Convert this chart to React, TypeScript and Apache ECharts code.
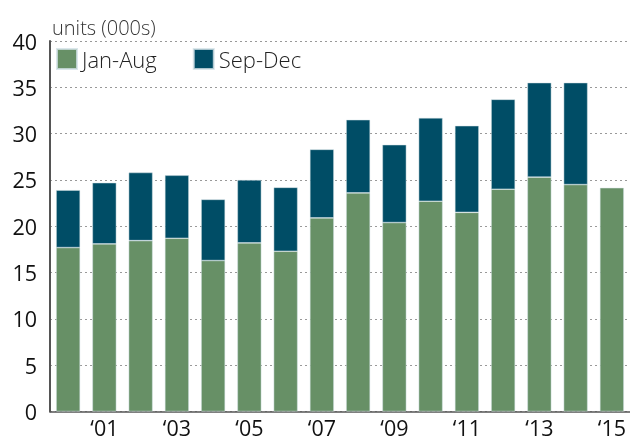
import React, { useEffect, useRef } from "react";
import * as echarts from "echarts";

const years = ["2000","2001","2002","2003","2004","2005","2006","2007","2008","2009","2010","2011","2012","2013","2014","2015"];
const janAug = [17.7, 18.1, 18.45, 18.7, 16.3, 18.2, 17.3, 20.9, 23.6, 20.4, 22.7, 21.5, 24.0, 25.3, 24.5, 24.15];
const sepDec = [6.2, 6.6, 7.35, 6.8, 6.6, 6.8, 6.9, 7.4, 7.9, 8.4, 9.0, 9.35, 9.7, 10.2, 11.0, null];
const yTicks = { min: 0, max: 40, interval: 5 };

const FONT = '"Open Sans", "Noto Sans", sans-serif';

export default function App() {
  const ref = useRef<HTMLDivElement>(null);
  useEffect(() => {
    const chart = echarts.init(ref.current!, null, { renderer: "svg" });
    chart.setOption({
      animation: false,
      textStyle: { fontFamily: FONT },
      title: {
        text: "units (000s)",
        left: 47,
        top: 12,
        textStyle: { fontFamily: FONT, fontSize: 20, fontWeight: 300, color: "#333" },
      },
      legend: {
        left: 51,
        top: 43,
        icon: "rect",
        itemWidth: 20,
        itemHeight: 20,
        itemGap: 36,
        textStyle: { fontFamily: FONT, fontSize: 22, fontWeight: 300, color: "#222" },
        data: ["Jan-Aug", "Sep-Dec"],
      },
      grid: { left: 50, right: -4, top: 41, bottom: 29.5, containLabel: false },
      xAxis: {
        type: "category",
        data: years,
        axisTick: { show: false },
        axisLine: { lineStyle: { color: "#555", width: 1.5 } },
        axisLabel: {
          interval: (i: number) => i % 2 === 1,
          formatter: (v: string) => "\u2018" + v.slice(2),
          fontFamily: FONT,
          fontSize: 21.5,
          fontWeight: 400,
          color: "#111",
          margin: 5,
          lineHeight: 22,
        },
      },
      yAxis: {
        type: "value",
        min: yTicks.min,
        max: yTicks.max,
        interval: yTicks.interval,
        axisLine: { show: true, lineStyle: { color: "#555", width: 2 } },
        axisTick: { show: false },
        axisLabel: { fontFamily: FONT, fontSize: 21.5, fontWeight: 400, color: "#111", margin: 13 },
        splitLine: { lineStyle: { color: "#999", type: [2, 3], width: 1 } },
      },
      series: [
        {
          name: "Jan-Aug",
          type: "bar",
          stack: "t",
          barWidth: 24,
          data: janAug,
          itemStyle: { color: "#679066", borderColor: "rgba(210,225,230,0.8)", borderWidth: 0.6 },
        },
        {
          name: "Sep-Dec",
          type: "bar",
          stack: "t",
          barWidth: 24,
          data: sepDec,
          itemStyle: { color: "#004d66", borderColor: "rgba(210,225,230,0.8)", borderWidth: 0.6 },
        },
      ],
    });
    return () => chart.dispose();
  }, []);
  return (
    <div
      ref={ref}
      style={{ position: "fixed", left: 0, top: 0, width: 630, height: 441, overflow: "hidden" }}
    />
  );
}
